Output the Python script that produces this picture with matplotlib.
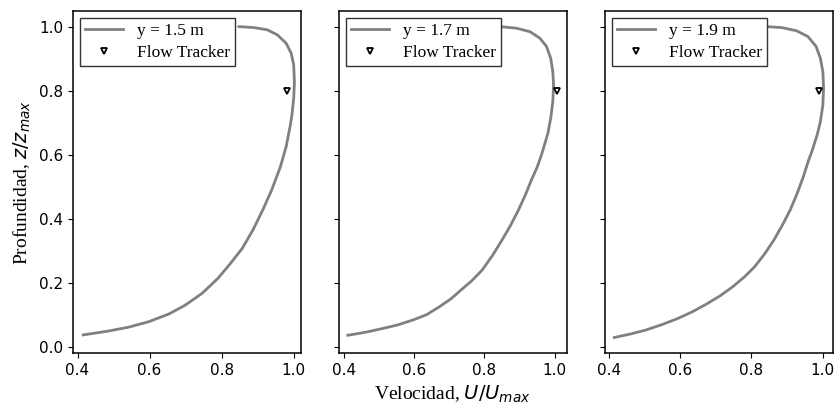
import matplotlib
matplotlib.use('Agg')
import matplotlib.pyplot as plt

# ── Perfiles de velocidad ───────────────────────────────────
labels = ["y = 1.5 m", "y = 1.7 m", "y = 1.9 m"]

u_15 = [0.416, 0.485, 0.541, 0.597, 0.653, 0.699, 0.746, 0.790, 0.825, 0.857,
        0.887, 0.914, 0.939, 0.963, 0.979, 0.990, 0.995, 1.000, 1.002, 1.000,
        0.993, 0.979, 0.955, 0.927, 0.890, 0.848]
z_15 = [0.037, 0.049, 0.061, 0.078, 0.102, 0.130, 0.167, 0.214, 0.261, 0.307,
        0.365, 0.427, 0.490, 0.562, 0.625, 0.688, 0.724, 0.776, 0.828, 0.880,
        0.917, 0.948, 0.974, 0.990, 0.997, 1.000]

u_17 = [0.411, 0.460, 0.510, 0.552, 0.595, 0.635, 0.672, 0.705, 0.733, 0.763,
        0.794, 0.823, 0.850, 0.875, 0.897, 0.917, 0.934, 0.950, 0.964, 0.981,
        0.989, 0.995, 0.997, 0.995, 0.989, 0.977, 0.958, 0.930, 0.892, 0.845]
z_17 = [0.036, 0.045, 0.057, 0.068, 0.083, 0.100, 0.125, 0.150, 0.177, 0.205,
        0.240, 0.285, 0.333, 0.380, 0.427, 0.475, 0.521, 0.560, 0.604, 0.667,
        0.714, 0.766, 0.818, 0.859, 0.901, 0.938, 0.964, 0.984, 0.995, 1.000]

u_19 = [0.414, 0.460, 0.502, 0.550, 0.594, 0.635, 0.676, 0.713, 0.748, 0.780,
        0.809, 0.837, 0.863, 0.887, 0.909, 0.929, 0.946, 0.960, 0.970, 0.985,
        0.994, 1.001, 1.003, 1.001, 0.994, 0.982, 0.959, 0.927, 0.885, 0.843]
z_19 = [0.029, 0.040, 0.052, 0.070, 0.089, 0.110, 0.135, 0.160, 0.188, 0.218,
        0.250, 0.290, 0.333, 0.380, 0.427, 0.480, 0.531, 0.580, 0.610, 0.662,
        0.703, 0.755, 0.807, 0.859, 0.901, 0.938, 0.969, 0.987, 0.997, 1.000]

# Flow Tracker
ft_u = [0.982, 1.007, 0.990]
ft_z = [0.8, 0.8, 0.8]

profiles = [(u_15, z_15), (u_17, z_17), (u_19, z_19)]
xlims = [(0.387, 1.020), (0.385, 1.035), (0.387, 1.029)]

serif = "Liberation Serif"

fig, axes = plt.subplots(1, 3, figsize=(8.37, 4.05), dpi=100, sharey=True)
fig.subplots_adjust(left=0.087, right=0.995, top=0.973, bottom=0.128, wspace=0.166)

for i, ax in enumerate(axes):
    u, z = profiles[i]
    ax.plot(u, z, color="#808080", lw=2, label=labels[i], solid_joinstyle="round")
    ax.plot(ft_u[i], ft_z[i], linestyle="none", marker="v", markersize=5,
            markerfacecolor="white", markeredgecolor="black",
            markeredgewidth=1.3, label="Flow Tracker")
    ax.set_xlim(*xlims[i])
    ax.set_ylim(-0.02, 1.049)
    ax.set_xticks([0.4, 0.6, 0.8, 1.0])
    ax.set_yticks([0.0, 0.2, 0.4, 0.6, 0.8, 1.0])
    ax.tick_params(labelsize=11)
    for sp in ax.spines.values():
        sp.set_linewidth(1.1)
    leg = ax.legend(loc="upper left", fancybox=False, framealpha=1,
                    edgecolor="#333333", prop={"family": serif, "size": 12.5},
                    borderaxespad=0.4, handlelength=2.2, borderpad=0.3,
                    labelspacing=0.3)
    leg.get_frame().set_linewidth(1.0)

axes[0].set_ylabel("Profundidad, $z/z_{max}$", fontsize=14, family=serif)
axes[1].set_xlabel("Velocidad, $U/U_{max}$", fontsize=14, family=serif)

plt.savefig("out.png", dpi=100)
plt.close()
